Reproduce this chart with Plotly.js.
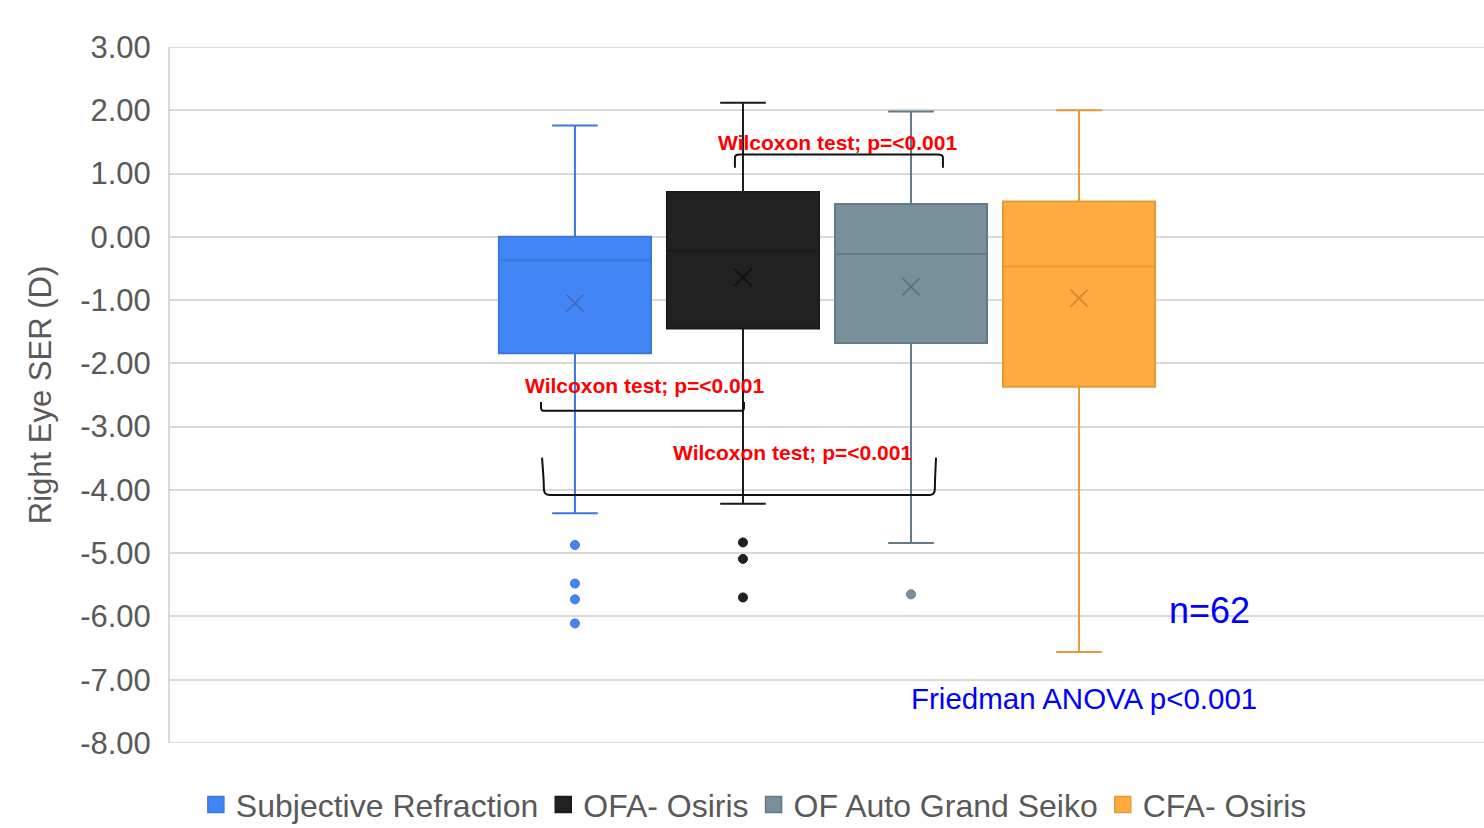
<!DOCTYPE html>
<html>
<head>
<meta charset="utf-8">
<script src="https://cdn.plot.ly/plotly-3.0.1.min.js"></script>
<style>html,body{margin:0;padding:0;background:#fff;}#chart{width:1484px;height:828px;}</style>
</head>
<body>
<div id="chart"></div>
<script>
// ---- data ----
const categories = ['Subjective Refraction', 'OFA- Osiris', 'OF Auto Grand Seiko', 'CFA- Osiris'];
const positions = [0, 1, 2, 3];
const upperWhisker = [1.76, 2.12, 1.98, 2.00];
const q3 = [0.00, 0.71, 0.52, 0.56];
const median = [-0.37, -0.22, -0.27, -0.47];
const q1 = [-1.84, -1.45, -1.68, -2.37];
const lowerWhisker = [-4.37, -4.22, -4.84, -6.56];
const means = [-1.05, -0.64, -0.79, -0.97];
const outliersSubjective = [-4.87, -5.48, -5.73, -6.11];
const outliersOFA = [-4.83, -5.09, -5.70];
const outliersSeiko = [-5.65];
const outliersCFA = [];
const outliers = [outliersSubjective, outliersOFA, outliersSeiko, outliersCFA];
const yTicks = [3, 2, 1, 0, -1, -2, -3, -4, -5, -6, -7, -8];

// ---- styling ----
const fills = ['#4285F4', '#212121', '#78909C', '#FFAB40'];
const lines = ['#3C78DC', '#1A1A1A', '#657A84', '#E39A3C'];
const meanCol = ['#3F68B8', '#111111', '#5A6E78', '#CC8A35'];
const FONT = 'Liberation Sans, Arial, sans-serif';
const GRID = '#D9D9D9';

const traces = [];
categories.forEach((name, i) => {
  traces.push({
    type: 'box',
    name: name,
    x: [positions[i]],
    q1: [q1[i]], median: [median[i]], q3: [q3[i]],
    lowerfence: [lowerWhisker[i]], upperfence: [upperWhisker[i]],
    width: 0.905,
    whiskerwidth: 0.3,
    fillcolor: fills[i],
    line: {color: lines[i], width: 2},
    boxpoints: false,
    showlegend: false,
    hoverinfo: 'skip'
  });
  traces.push({
    type: 'scatter', mode: 'markers',
    x: [positions[i]], y: [means[i]],
    marker: {symbol: 'x-thin-open', size: 17, line: {color: meanCol[i], width: 1.6}, color: meanCol[i]},
    showlegend: false, hoverinfo: 'skip'
  });
  if (outliers[i].length) {
    traces.push({
      type: 'scatter', mode: 'markers',
      x: outliers[i].map(() => positions[i]), y: outliers[i],
      marker: {symbol: 'circle', size: 9, color: fills[i], line: {color: lines[i], width: 1}},
      showlegend: false, hoverinfo: 'skip'
    });
  }
});
// legend entries
categories.forEach((name, i) => {
  traces.push({
    type: 'scatter', mode: 'markers', name: name,
    x: [null], y: [null],
    marker: {symbol: 'square', size: 20, color: fills[i], line: {color: lines[i], width: 1.5}},
    showlegend: true, hoverinfo: 'skip'
  });
});

const bracketColor = '#111111';
const shapes = [
  // edge gridlines (top and bottom ticks)
  {type: 'line', xref: 'paper', yref: 'y', x0: 0, x1: 1, y0: yTicks[0], y1: yTicks[0], line: {color: GRID, width: 2}, layer: 'below'},
  {type: 'line', xref: 'paper', yref: 'y', x0: 0, x1: 1, y0: yTicks[yTicks.length - 1], y1: yTicks[yTicks.length - 1], line: {color: GRID, width: 2}, layer: 'below'},
  // OFA vs Seiko (top)
  {type: 'path', xref: 'x', yref: 'y', path: 'M0.952,1.09 L0.952,1.25 Q0.952,1.30 0.98,1.30 L2.16,1.30 Q2.19,1.30 2.19,1.25 L2.19,1.09', line: {color: bracketColor, width: 2}},
  // Subjective vs OFA
  {type: 'path', xref: 'x', yref: 'y', path: 'M-0.202,-2.61 L-0.202,-2.70 Q-0.202,-2.75 -0.18,-2.75 L0.985,-2.75 Q1.006,-2.75 1.006,-2.70 L1.006,-2.61', line: {color: bracketColor, width: 2}},
  // Subjective vs Seiko
  {type: 'path', xref: 'x', yref: 'y', path: 'M-0.196,-3.49 Q-0.185,-3.85 -0.185,-3.98 Q-0.185,-4.08 -0.15,-4.08 L2.11,-4.08 Q2.142,-4.08 2.142,-3.98 Q2.142,-3.85 2.149,-3.49', line: {color: bracketColor, width: 2}}
];

const redFont = {family: FONT, size: 21, color: '#FF0000', weight: 'bold'};
const annotations = [
  {x: 1.565, y: 1.486, xref: 'x', yref: 'y', text: '<b>Wilcoxon test; p=<0.001</b>', showarrow: false, font: redFont},
  {x: 0.414, y: -2.355, xref: 'x', yref: 'y', text: '<b>Wilcoxon test; p=<0.001</b>', showarrow: false, font: redFont},
  {x: 1.295, y: -3.414, xref: 'x', yref: 'y', text: '<b>Wilcoxon test; p=<0.001</b>', showarrow: false, font: redFont},
  {x: 3.774, y: -5.91, xref: 'x', yref: 'y', text: 'n=62', showarrow: false, font: {family: FONT, size: 36, color: '#0000FF'}},
  {x: 3.03, y: -7.30, xref: 'x', yref: 'y', text: 'Friedman ANOVA p<0.001', showarrow: false, font: {family: FONT, size: 29.5, color: '#0000FF'}}
];

const layout = {
  width: 1484, height: 828,
  margin: {l: 170, r: 0, t: 47, b: 85},
  paper_bgcolor: '#ffffff', plot_bgcolor: '#ffffff',
  font: {family: FONT, color: '#595959'},
  boxmode: 'overlay',
  showlegend: true,
  legend: {
    orientation: 'h', xref: 'container', yref: 'container',
    x: 0.508, xanchor: 'center', y: 0.028, yanchor: 'middle',
    font: {family: FONT, size: 32, color: '#595959'},
    itemsizing: 'trace', tracegroupgap: 0
  },
  xaxis: {
    range: [-2.41, 5.41], showgrid: false, zeroline: false, showline: false,
    showticklabels: false, ticks: '', fixedrange: true
  },
  yaxis: {
    range: [-8, 3], tickvals: yTicks, ticktext: yTicks.map(v => v.toFixed(2)),
    showgrid: true, gridcolor: GRID, gridwidth: 2,
    zeroline: false, showline: true, linecolor: GRID, linewidth: 2,
    ticks: '', ticklabelstandoff: 11,
    tickfont: {family: FONT, size: 31, color: '#595959'},
    title: {text: 'Right Eye SER (D)', font: {family: FONT, size: 31, color: '#595959'}, standoff: 19},
    fixedrange: true
  },
  shapes: shapes,
  annotations: annotations
};

Plotly.newPlot('chart', traces, layout, {displayModeBar: false, staticPlot: true});
</script>
</body>
</html>
